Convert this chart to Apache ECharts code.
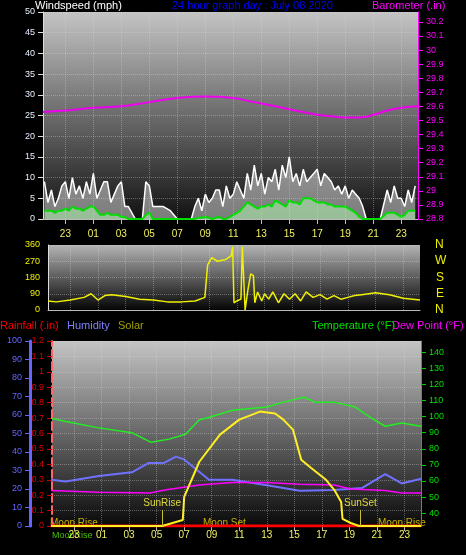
<!DOCTYPE html>
<html>
<head>
<meta charset="utf-8">
<script src="https://cdn.jsdelivr.net/npm/echarts@6/dist/echarts.min.js"></script>
<style>
html, body { margin: 0; padding: 0; background: #000; }
#container { width: 466px; height: 555px; }
</style>
</head>
<body>
<div id="container"></div>
<script>
var dom = document.getElementById("container");
var myChart = echarts.init(dom);

// hours relative to midnight of July 08 (-1 = 23:00 the day before)
var hourTicks = [-1, 1, 3, 5, 7, 9, 11, 13, 15, 17, 19, 21, 23];
var windHours = [-2.5, -2.25, -2, -1.75, -1.5, -1.25, -1, -0.75, -0.5, -0.25, 0, 0.25, 0.5, 0.75, 1, 1.25, 1.5, 1.75, 2, 2.25, 2.5, 2.75, 3, 3.25, 3.5, 4, 4.5, 4.75, 5, 5.25, 5.5, 6, 6.5, 7, 7.5, 8, 8.25, 8.5, 8.75, 9, 9.25, 9.5, 9.75, 10, 10.25, 10.5, 10.75, 11, 11.25, 11.5, 11.75, 12, 12.25, 12.5, 12.75, 13, 13.25, 13.5, 13.75, 14, 14.25, 14.5, 14.75, 15, 15.25, 15.5, 15.75, 16, 16.25, 16.5, 16.75, 17, 17.25, 17.5, 17.75, 18, 18.25, 18.5, 18.75, 19, 19.25, 19.5, 19.75, 20, 20.25, 20.5, 21, 21.5, 22, 22.25, 22.5, 22.75, 23, 23.25, 23.5, 23.75, 24];
var windGust = [9, 4, 7, 3, 5, 8, 9, 5, 10, 6, 8, 5, 9, 6, 11, 5, 7, 9, 9, 4, 6, 8, 9, 3, 3, 0, 0, 9, 8, 3, 3, 3, 2, 0, 0, 0, 3, 5, 2, 6, 4, 5, 7, 7, 3, 8, 5, 6, 9, 7, 5, 11, 7, 13, 8, 11, 6, 10, 9, 12, 7, 13, 10, 15, 9, 11, 8, 12, 9, 10, 11, 12, 8, 11, 10, 9, 7, 8, 6, 8, 5, 7, 6, 5, 3, 0, 0, 0, 7, 4, 8, 5, 5, 3, 7, 4, 8];
var windAvg = [2, 2, 2, 1.5, 2, 2, 2.5, 2, 3, 2.5, 2.5, 2, 2.5, 3, 3, 2, 1, 1, 1.5, 1, 1, 1, 0.5, 0.5, 0, 0, 0, 1, 1.5, 0, 0, 0, 0, 0, 0, 0, 0, 0.3, 0.3, 0.5, 0.3, 0, 0.3, 0.5, 0, 0, 0.5, 1, 1.5, 2, 3, 4, 3.5, 3, 2.5, 3, 3, 3.5, 3, 4.5, 4, 3.5, 3, 4.5, 4, 4, 3.5, 5, 5, 5, 4.5, 4, 4, 4, 3.5, 3.5, 3, 3, 3, 3, 2.5, 2, 1.5, 0.5, 0, 0, 0, 0, 1.5, 1.5, 1.5, 1, 0.5, 1, 2, 2, 2];
var baroHours = [-2.6, -1, 0, 1, 3, 5, 7, 9, 11, 12, 13, 15, 17, 18, 19, 20, 21, 22, 23, 24.2];
var baroValues = [29.56, 29.57, 29.58, 29.59, 29.6, 29.63, 29.66, 29.67, 29.66, 29.64, 29.62, 29.58, 29.54, 29.53, 29.52, 29.52, 29.54, 29.57, 29.59, 29.6];
var dirHours = [-2.6, -2, -1, 0, 0.5, 1, 1.5, 2, 3, 4, 5, 6, 7, 8, 8.7, 8.9, 9.2, 9.6, 10.2, 10.6, 10.7, 10.8, 11.0, 11.3, 11.4, 11.6, 11.8, 12.0, 12.2, 12.3, 12.5, 12.8, 13, 13.3, 13.6, 14, 14.4, 14.8, 15.2, 15.6, 16, 16.5, 17, 17.5, 18, 18.5, 19, 19.5, 20, 21, 22, 23, 24.2];
var dirValues = [50, 45, 55, 70, 90, 55, 80, 85, 75, 60, 55, 45, 45, 50, 70, 250, 290, 270, 280, 300, 350, 40, 50, 60, 350, 0, 110, 200, 190, 40, 100, 50, 90, 60, 100, 40, 90, 60, 90, 50, 100, 70, 85, 60, 80, 60, 70, 80, 85, 95, 85, 65, 55];
var tempHours = [-2.7, -1.6, 0.8, 3.2, 4.6, 5.9, 7.1, 8.1, 8.6, 10.5, 13, 14.2, 15.7, 16.5, 17.9, 19.4, 20.6, 21.6, 22.8, 24.2];
var tempValues = [99, 97, 93, 90, 84, 86, 89, 98, 99, 104, 106, 109, 112, 109, 109, 106, 99, 94, 96, 94];
var humHours = [-2.7, -1.6, 0.8, 3.2, 4.4, 5.5, 6.4, 7.0, 8.8, 10.5, 13, 15.4, 17.9, 19.9, 21.6, 22.8, 24.2];
var humValues = [25, 24, 27, 29, 34, 34, 37.5, 36, 25, 25, 22, 19, 19.5, 20.5, 28, 23, 25.5];
var dewHours = [-2.7, 0.8, 4.5, 5.7, 8.1, 10.5, 13, 15.4, 17.9, 19.1, 21.6, 22.8, 24.2];
var dewValues = [54, 53, 52.5, 54.5, 57.5, 59, 59, 58, 57.5, 55, 54, 52.5, 52.5];
var solarHours = [-2.7, 5.4, 6.9, 7.0, 8.1, 9.6, 11, 12.5, 13.6, 14.2, 14.9, 15.5, 16.2, 17.3, 17.9, 18.4, 18.5, 19.1, 19.7, 24.2];
var solarValues = [0, 0, 42, 203, 448, 637, 742, 798, 784, 742, 672, 462, 406, 322, 252, 168, 49, 21, 0, 0];
var rainHours = [-2.7, 24.2];
var rainValues = [0, 0];
var sunRise = 5.4;
var sunSet = 19.8;

function pairs(xs, ys) {
    return xs.map(function (x, i) { return [x, ys[i]]; });
}
function hourLabel(v) {
    var h = ((Math.round(v) % 24) + 24) % 24;
    return (h < 10 ? '0' : '') + h;
}
function panelBg(top, bottom) {
    return new echarts.graphic.LinearGradient(0, 0, 0, 1, [
        { offset: 0, color: top }, { offset: 1, color: bottom }
    ]);
}
var gridLine = { show: true, lineStyle: { color: 'rgba(220,220,220,0.35)', type: 'dotted' } };
var vLines = {
    silent: true, symbol: 'none', label: { show: false },
    lineStyle: { color: 'rgba(220,220,220,0.35)', type: 'dotted', width: 1 },
    data: hourTicks.map(function (h) { return { xAxis: h }; })
};
var font = 'Liberation Sans';

function xAxisFor(gi, showLabels, margin) {
    return {
        type: 'value', gridIndex: gi, min: -2.6, max: 24.2,
        axisLine: { show: true, onZero: false, lineStyle: { color: '#bbb' } },
        axisTick: { show: showLabels, customValues: hourTicks, lineStyle: { color: '#bbb' } },
        axisLabel: { show: showLabels, customValues: hourTicks, formatter: hourLabel, color: '#f0f060', fontSize: 10, fontFamily: font, margin: margin },
        splitLine: { show: false }
    };
}

option = {
    backgroundColor: '#000',
    animation: false,
    textStyle: { fontFamily: font },
    grid: [
        { left: 43, right: 48, top: 12, height: 207, show: true, borderWidth: 0, backgroundColor: panelBg('#c4c4c4', '#121212') },
        { left: 48, right: 46, top: 245, height: 65, show: true, borderWidth: 0, backgroundColor: panelBg('#b4b4b4', '#050505') },
        { left: 52, right: 45, top: 341, height: 185, show: true, borderWidth: 0, backgroundColor: panelBg('#c4c4c4', '#0a0a0a') }
    ],
    xAxis: [xAxisFor(0, true, 10), xAxisFor(1, false, 8), xAxisFor(2, true, 4)],
    yAxis: [
        { type: 'value', gridIndex: 0, min: 0, max: 50, interval: 5,
          axisLine: { show: true, onZero: false, lineStyle: { color: '#ddd' } }, axisTick: { show: true, lineStyle: { color: '#ddd' } },
          axisLabel: { color: '#e8f0ff', fontSize: 9 }, splitLine: gridLine },
        { type: 'value', gridIndex: 0, position: 'right', min: 28.8, max: 30.27, interval: 0.1,
          axisLine: { show: true, onZero: false, lineStyle: { color: '#ff00ff' } }, axisTick: { show: true, lineStyle: { color: '#ff00ff' } },
          axisLabel: { color: '#ff00ff', fontSize: 9, showMaxLabel: false, formatter: function (v) { return +v.toFixed(1); } },
          splitLine: { show: false } },
        { type: 'value', gridIndex: 1, min: 0, max: 360, interval: 90,
          axisLine: { show: true, onZero: false, lineStyle: { color: '#ddd' } }, axisTick: { show: false },
          axisLabel: { color: '#f0f000', fontSize: 9 }, splitLine: gridLine },
        { type: 'value', gridIndex: 2, position: 'left', offset: 22, min: 0, max: 100, interval: 10,
          axisLine: { show: true, onZero: false, lineStyle: { color: '#6666ff', width: 3 } }, axisTick: { show: true, lineStyle: { color: '#6666ff' } },
          axisLabel: { color: '#6666ff', fontSize: 9 }, splitLine: { show: false } },
        { type: 'value', gridIndex: 2, position: 'left', min: 0, max: 1.2, interval: 0.1,
          axisLine: { show: true, onZero: false, lineStyle: { color: '#ff6666', type: 'dashed', width: 2 } }, axisTick: { show: true, lineStyle: { color: '#cc0000' } },
          axisLabel: { color: '#dd0000', fontSize: 9, formatter: function (v) { return +v.toFixed(1); } },
          splitLine: gridLine },
        { type: 'value', gridIndex: 2, position: 'right', min: 32, max: 147,
          axisLine: { show: true, onZero: false, lineStyle: { color: '#00cc00' } },
          axisTick: { show: true, customValues: [40, 50, 60, 70, 80, 90, 100, 110, 120, 130, 140], lineStyle: { color: '#00cc00' } },
          axisLabel: { color: '#00e000', fontSize: 9, customValues: [40, 50, 60, 70, 80, 90, 100, 110, 120, 130, 140] },
          splitLine: { show: false } },
        { type: 'value', gridIndex: 2, show: false, min: 0, max: 1290 }
    ],
    series: [
        { name: 'Gust', type: 'line', xAxisIndex: 0, yAxisIndex: 0, data: pairs(windHours, windGust),
          symbol: 'none', lineStyle: { color: '#ffffff', width: 1.5 },
          areaStyle: { color: 'rgba(235,235,235,0.7)' }, markLine: vLines },
        { name: 'Average', type: 'line', xAxisIndex: 0, yAxisIndex: 0, data: pairs(windHours, windAvg),
          symbol: 'none', lineStyle: { color: '#00dd00', width: 2 },
          areaStyle: { color: 'rgba(170,235,170,0.85)' } },
        { name: 'Barometer', type: 'line', xAxisIndex: 0, yAxisIndex: 1, data: pairs(baroHours, baroValues),
          smooth: true, symbol: 'none', lineStyle: { color: '#ee00ee', width: 2 } },
        { name: 'Direction', type: 'line', xAxisIndex: 1, yAxisIndex: 2, data: pairs(dirHours, dirValues),
          symbol: 'none', lineStyle: { color: '#f0f000', width: 1.5 }, markLine: vLines },
        { name: 'Humidity', type: 'line', xAxisIndex: 2, yAxisIndex: 3, data: pairs(humHours, humValues),
          symbol: 'none', lineStyle: { color: '#7070ff', width: 2 }, markLine: vLines },
        { name: 'Rainfall', type: 'line', xAxisIndex: 2, yAxisIndex: 4, data: pairs(rainHours, rainValues),
          symbol: 'none', lineStyle: { color: '#ff0000', width: 3 } },
        { name: 'Temperature', type: 'line', xAxisIndex: 2, yAxisIndex: 5, data: pairs(tempHours, tempValues),
          symbol: 'none', lineStyle: { color: '#22ee22', width: 1.5 } },
        { name: 'Dew Point', type: 'line', xAxisIndex: 2, yAxisIndex: 5, data: pairs(dewHours, dewValues),
          symbol: 'none', lineStyle: { color: '#ff00ff', width: 1.5 } },
        { name: 'Solar', type: 'line', xAxisIndex: 2, yAxisIndex: 6, data: pairs(solarHours, solarValues),
          symbol: 'none', lineStyle: { color: '#ffee22', width: 2 },
          markLine: {
              silent: true, symbol: 'none',
              lineStyle: { color: '#c8c030', type: 'solid', width: 1 },
              label: { show: true, position: 'end', color: '#e0d840', fontSize: 10, fontFamily: font, distance: 2 },
              data: [
                  [{ coord: [sunRise, 0], name: 'SunRise' }, { coord: [sunRise, 112] }],
                  [{ coord: [sunSet, 0], name: 'SunSet' }, { coord: [sunSet, 112] }]
              ].map(function (d) {
                  d[0].label = { formatter: d[0].name };
                  return d;
              })
          } }
    ],
    graphic: [
        { type: 'text', left: 35, top: 0, style: { text: 'Windspeed (mph)', fill: '#ffffff', font: '11px ' + font } },
        { type: 'text', left: 172, top: 0, style: { text: '24 hour graph day : July 08 2020', fill: '#0000ff', font: '11px ' + font } },
        { type: 'text', left: 372, top: 0, style: { text: 'Barometer (.in)', fill: '#ff00ff', font: '11px ' + font } },
        { type: 'text', left: 435, top: 239, style: { text: 'N', fill: '#f0f000', font: '12px ' + font } },
        { type: 'text', left: 435, top: 255, style: { text: 'W', fill: '#f0f000', font: '12px ' + font } },
        { type: 'text', left: 436, top: 272, style: { text: 'S', fill: '#f0f000', font: '12px ' + font } },
        { type: 'text', left: 436, top: 288, style: { text: 'E', fill: '#f0f000', font: '12px ' + font } },
        { type: 'text', left: 435, top: 304, style: { text: 'N', fill: '#f0f000', font: '12px ' + font } },
        { type: 'text', left: 0, top: 320, style: { text: 'Rainfall (.in)', fill: '#ff0000', font: '11px ' + font } },
        { type: 'text', left: 67, top: 320, style: { text: 'Humidity', fill: '#8080ff', font: '11px ' + font } },
        { type: 'text', left: 118, top: 320, style: { text: 'Solar', fill: '#a0a000', font: '11px ' + font } },
        { type: 'text', left: 312, top: 320, style: { text: 'Temperature (°F)', fill: '#00e000', font: '11px ' + font } },
        { type: 'text', left: 392, top: 320, style: { text: 'Dew Point (°F)', fill: '#ff00ff', font: '11px ' + font } },
        { type: 'text', left: 50, top: 518, style: { text: 'Moon Rise', fill: '#c8b000', font: '10px ' + font } },
        { type: 'text', left: 203, top: 518, style: { text: 'Moon Set', fill: '#c8b000', font: '10px ' + font } },
        { type: 'text', left: 378, top: 518, style: { text: 'Moon Rise', fill: '#c8b000', font: '10px ' + font } },
        { type: 'text', left: 52, top: 531, style: { text: 'MoonRise', fill: '#40c000', font: '9px ' + font } }
    ]
};

if (option && typeof option === "object") {
    myChart.setOption(option, true);
}
</script>
</body>
</html>
